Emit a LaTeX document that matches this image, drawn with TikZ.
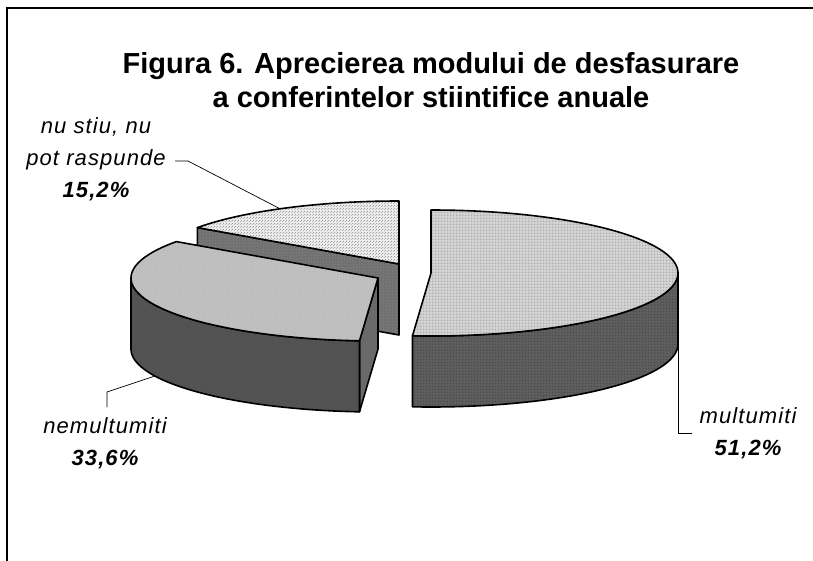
\documentclass[tikz,border=0pt]{standalone}
\usepackage{fontspec}
\usetikzlibrary{patterns.meta}
\setmainfont{Liberation Sans}
\newfontfamily\lblfont[LetterSpace=5]{Liberation Sans}
\tikzdeclarepattern{name=fgrid,type=uncolored,bounding box={(0pt,0pt) and (3pt,3pt)},
  tile size={(3pt,3pt)},
  code={\draw[line width=0.6pt] (0pt,0pt) -- (3pt,0pt) (0pt,0pt) -- (0pt,3pt);}}
\tikzdeclarepattern{name=fvert,type=uncolored,bounding box={(0pt,0pt) and (2.5pt,2.5pt)},
  tile size={(2.5pt,2.5pt)},
  code={\draw[line width=0.5pt] (0pt,0pt) -- (0pt,2.5pt);}}
\tikzdeclarepattern{name=fdots,type=uncolored,bounding box={(0pt,0pt) and (3pt,3pt)},
  tile size={(3pt,3pt)},
  code={\fill (0pt,0pt) rectangle (0.8pt,0.8pt); \fill (1.5pt,1.5pt) rectangle (2.3pt,2.3pt);}}
\begin{document}
\begin{tikzpicture}[x=1pt,y=-1pt,
  edge/.style={draw=black,line width=1.6pt,line join=round},
  mtop/.style={edge,preaction={fill={rgb,255:red,212;green,212;blue,212}},preaction={pattern=fgrid,pattern color=black!65}},
  mwall/.style={edge,preaction={fill={rgb,255:red,95;green,95;blue,95}},preaction={pattern=fgrid,pattern color=black!85}},
  ntop/.style={edge,preaction={fill={rgb,255:red,192;green,192;blue,192}},preaction={pattern=fvert,pattern color=black!40}},
  nwall/.style={edge,preaction={fill={rgb,255:red,82;green,82;blue,82}},preaction={pattern=fvert,pattern color=black!60}},
  ncut/.style={edge,preaction={fill={rgb,255:red,105;green,105;blue,105}},preaction={pattern=fvert,pattern color=black!55}},
  stop/.style={edge,preaction={fill={rgb,255:red,235;green,235;blue,235}},preaction={pattern=fdots,pattern color=black!55}},
  scut/.style={edge,preaction={fill={rgb,255:red,118;green,118;blue,118}},preaction={pattern=fdots,pattern color=black!65}},
  leader/.style={draw=black,line width=0.7pt},
  lbl/.style={align=center,font=\lblfont\itshape\fontsize{22}{32}\selectfont,inner sep=0pt},
  ttl/.style={align=center,font=\bfseries\fontsize{29}{34}\selectfont,inner sep=0pt}]
\useasboundingbox (0,0) rectangle (813,561);
\fill[white] (0,0) rectangle (813,561);
\draw[line width=1.5pt] (7,561) -- (7,8) -- (813,8);
\def\A{247}\def\B{63}\def\H{71}
% title
\node[ttl] (title) at (431,80) {Figura 6. Aprecierea modului de desfasurare\\a conferintelor stiintifice anuale};
% ---- nu stiu slice (305.3 -> 360), apex (399,264)
\path[scut] (399,264) -- ({399+\A*sin(305.3)},{264-\B*cos(305.3)})
  -- ({399+\A*sin(305.3)},{264+\H-\B*cos(305.3)}) -- (399,{264+\H}) -- cycle;
\path[stop] (399,264) -- plot[domain=305.3:360,samples=40] ({399+\A*sin(\x)},{264-\B*cos(\x)}) -- cycle;
% ---- nemultumiti slice (184.3 -> 305.3), apex (378,278)
\path[ncut] (378,278) -- ({378+\A*sin(184.3)},{278-\B*cos(184.3)})
  -- ({378+\A*sin(184.3)},{278+\H-\B*cos(184.3)}) -- (378,{278+\H}) -- cycle;
\path[nwall] plot[domain=184.3:270,samples=60] ({378+\A*sin(\x)},{278-\B*cos(\x)})
  -- plot[domain=270:184.3,samples=60] ({378+\A*sin(\x)},{278+\H-\B*cos(\x)}) -- cycle;
\path[ntop] (378,278) -- plot[domain=184.3:305.3,samples=80] ({378+\A*sin(\x)},{278-\B*cos(\x)}) -- cycle;
% ---- multumiti slice (0 -> 184.3), apex (431,273)
\path[mwall] plot[domain=90:184.3,samples=60] ({431+\A*sin(\x)},{273-\B*cos(\x)})
  -- plot[domain=184.3:90,samples=60] ({431+\A*sin(\x)},{273+\H-\B*cos(\x)}) -- cycle;
\path[mtop] (431,273) -- plot[domain=0:184.3,samples=100] ({431+\A*sin(\x)},{273-\B*cos(\x)}) -- cycle;
% labels
\node[lbl] (slab) at (96,159) {nu stiu, nu\\pot raspunde\\{\bfseries 15,2\%}};
\node[lbl] (nlab) at (105,443) {nemultumiti\\{\bfseries 33,6\%}};
\node[lbl] (mlab) at (748,433) {multumiti\\{\bfseries 51,2\%}};
% leader points
\coordinate (sEnd) at ({399+\A*sin(331.2)},{264-\B*cos(331.2)});
\coordinate (nEnd) at ({378+\A*sin(244.6)},{278+\H-\B*cos(244.6)});
\coordinate (mEnd) at (678,{273+\H});
\coordinate (sA) at (175,161);
\coordinate (sB) at (188,161);
\coordinate (nA) at (107,407);
\coordinate (nB) at (107,392);
\coordinate (mA) at (678,433);
\coordinate (mB) at (692,433);
\draw[leader] (sA) -- (sB) -- (sEnd);
\draw[leader] (nA) -- (nB) -- (nEnd);
\draw[leader] (mEnd) -- (mA) -- (mB);
\end{tikzpicture}
\end{document}
